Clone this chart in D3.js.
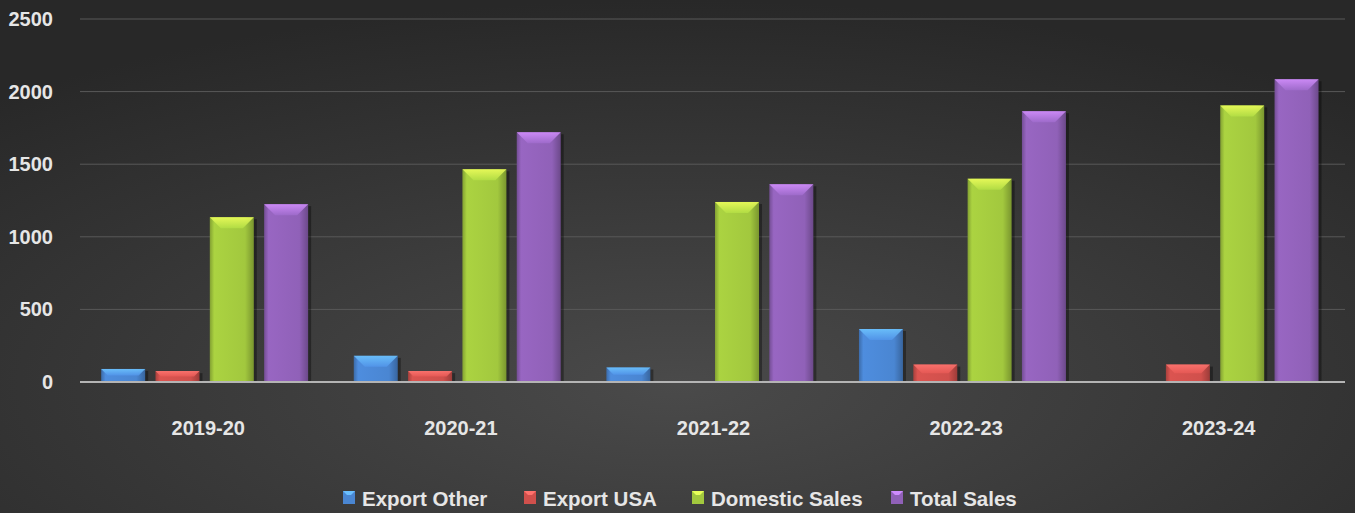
<!DOCTYPE html>
<html>
<head>
<meta charset="utf-8">
<script src="https://cdn.jsdelivr.net/npm/d3@7"></script>
<style>
  html, body { margin: 0; padding: 0; background: #333; }
  svg { display: block; }
  text { font-family: "Liberation Sans", Arial, sans-serif; font-weight: bold; }
</style>
</head>
<body>
<svg id="plot"></svg>
<script>
// Chart data
const years = ["2019-20", "2020-21", "2021-22", "2022-23", "2023-24"];
const seriesNames = ["Export Other", "Export USA", "Domestic Sales", "Total Sales"];
const exportOther = [90, 180, 100, 365, 5];
const exportUSA = [75, 75, 5, 120, 120];
const domesticSales = [1135, 1465, 1240, 1400, 1905];
const totalSales = [1225, 1720, 1362, 1865, 2085];
const yTicks = [0, 500, 1000, 1500, 2000, 2500];

const values = [exportOther, exportUSA, domesticSales, totalSales];
const colors = ["#4a86d2", "#d0504c", "#a2c83e", "#9061b8"];

const width = 1355, height = 513;
const margin = {top: 19, right: 10, bottom: 131, left: 82};

const svg = d3.select("#plot")
    .attr("width", width)
    .attr("height", height);

const defs = svg.append("defs");

// Background: radial glow in the middle, darker edges
const bg = defs.append("radialGradient").attr("id", "bg")
    .attr("cx", "50%").attr("cy", "75%").attr("r", "75%");
bg.append("stop").attr("offset", "0%").attr("stop-color", "#4a4a4a");
bg.append("stop").attr("offset", "100%").attr("stop-color", "#282828");
svg.append("rect").attr("width", width).attr("height", height).attr("fill", "url(#bg)");

// Per-series gradients for the bevelled bars
colors.forEach((c, i) => {
  const g = defs.append("linearGradient").attr("id", "bar" + i)
      .attr("x1", "0%").attr("x2", "100%").attr("y1", "0%").attr("y2", "0%");
  g.append("stop").attr("offset", "0%").attr("stop-color", d3.color(c).darker(0.6));
  g.append("stop").attr("offset", "10%").attr("stop-color", d3.color(c).brighter(0.15));
  g.append("stop").attr("offset", "80%").attr("stop-color", c);
  g.append("stop").attr("offset", "100%").attr("stop-color", d3.color(c).darker(0.8));

  const t = defs.append("linearGradient").attr("id", "top" + i)
      .attr("x1", "0%").attr("x2", "0%").attr("y1", "0%").attr("y2", "100%");
  t.append("stop").attr("offset", "0%").attr("stop-color", d3.color(c).brighter(1.1));
  t.append("stop").attr("offset", "100%").attr("stop-color", d3.color(c).brighter(0.3));
});

const x0 = d3.scaleBand()
    .domain(years)
    .range([margin.left, width - margin.right])
    .paddingInner(0)
    .paddingOuter(0);

const x1 = d3.scaleBand()
    .domain(seriesNames)
    .range([0, x0.bandwidth()])
    .paddingInner(0.19)
    .paddingOuter(0.42)
    .align(0.42);

const y = d3.scaleLinear()
    .domain([0, 2500])
    .range([height - margin.bottom, margin.top]);

// Gridlines
svg.append("g")
    .selectAll("line")
    .data(yTicks.slice(1))
    .join("line")
      .attr("x1", 80).attr("x2", width - margin.right)
      .attr("y1", d => y(d)).attr("y2", d => y(d))
      .attr("stroke", "#595959").attr("stroke-width", 1);

// Y axis labels
const yAxis = svg.append("g")
    .attr("transform", `translate(${margin.left},0)`)
    .call(d3.axisLeft(y).tickValues(yTicks).tickFormat(d3.format("d")).tickSize(0).tickPadding(29));
yAxis.select(".domain").remove();
yAxis.attr("font-family", null).attr("font-size", null);
yAxis.selectAll("text")
    .attr("fill", "#e6e6e6")
    .style("font-size", "20px");

// Bars
const groups = svg.append("g")
    .selectAll("g")
    .data(years)
    .join("g")
      .attr("transform", d => `translate(${x0(d)},0)`);

const bars = groups.selectAll("g")
    .data((d, yi) => seriesNames.map((s, si) => ({s, si, v: values[si][yi]})))
    .join("g")
      .attr("transform", d => `translate(${x1(d.s)},0)`);

const bw = x1.bandwidth();

// dark shadow at right side
bars.append("rect")
    .attr("x", 3).attr("y", d => y(d.v) + 2)
    .attr("width", bw).attr("height", d => y(0) - y(d.v) - 2)
    .attr("fill", "#000").attr("opacity", 0.35);

bars.append("rect")
    .attr("x", 0).attr("y", d => y(d.v))
    .attr("width", bw).attr("height", d => y(0) - y(d.v))
    .attr("fill", d => `url(#bar${d.si})`);

// top bevel
bars.append("path")
    .attr("d", d => {
      const t = y(d.v), h = Math.min(11, (y(0) - t) / 2);
      return `M0,${t}L${bw},${t}L${bw - h},${t + h}L${h},${t + h}Z`;
    })
    .attr("fill", d => `url(#top${d.si})`)
    .attr("opacity", 0.85);

// Axis line
svg.append("line")
    .attr("x1", 80).attr("x2", width - margin.right)
    .attr("y1", y(0)).attr("y2", y(0))
    .attr("stroke", "#b4b4b4").attr("stroke-width", 2);

// X axis labels
svg.append("g")
    .selectAll("text")
    .data(years)
    .join("text")
      .attr("x", d => x0(d) + x0.bandwidth() / 2)
      .attr("y", 435)
      .attr("text-anchor", "middle")
      .attr("fill", "#e6e6e6")
      .style("font-size", "20px")
      .text(d => d);

// Legend
const legendX = [343, 524, 692, 891];
const legend = svg.append("g")
    .selectAll("g")
    .data(seriesNames)
    .join("g")
      .attr("transform", (d, i) => `translate(${legendX[i]},498)`);

legend.append("rect")
    .attr("x", 0).attr("y", -7)
    .attr("width", 12).attr("height", 13)
    .attr("fill", (d, i) => colors[i]);
legend.append("path")
    .attr("d", "M0,-7L12,-7L8,-3L4,-3Z")
    .attr("fill", (d, i) => d3.color(colors[i]).brighter(1));

legend.append("text")
    .attr("x", 19)
    .attr("y", 7.5)
    .attr("fill", "#e6e6e6")
    .style("font-size", "20.5px")
    .text(d => d);
</script>
</body>
</html>
